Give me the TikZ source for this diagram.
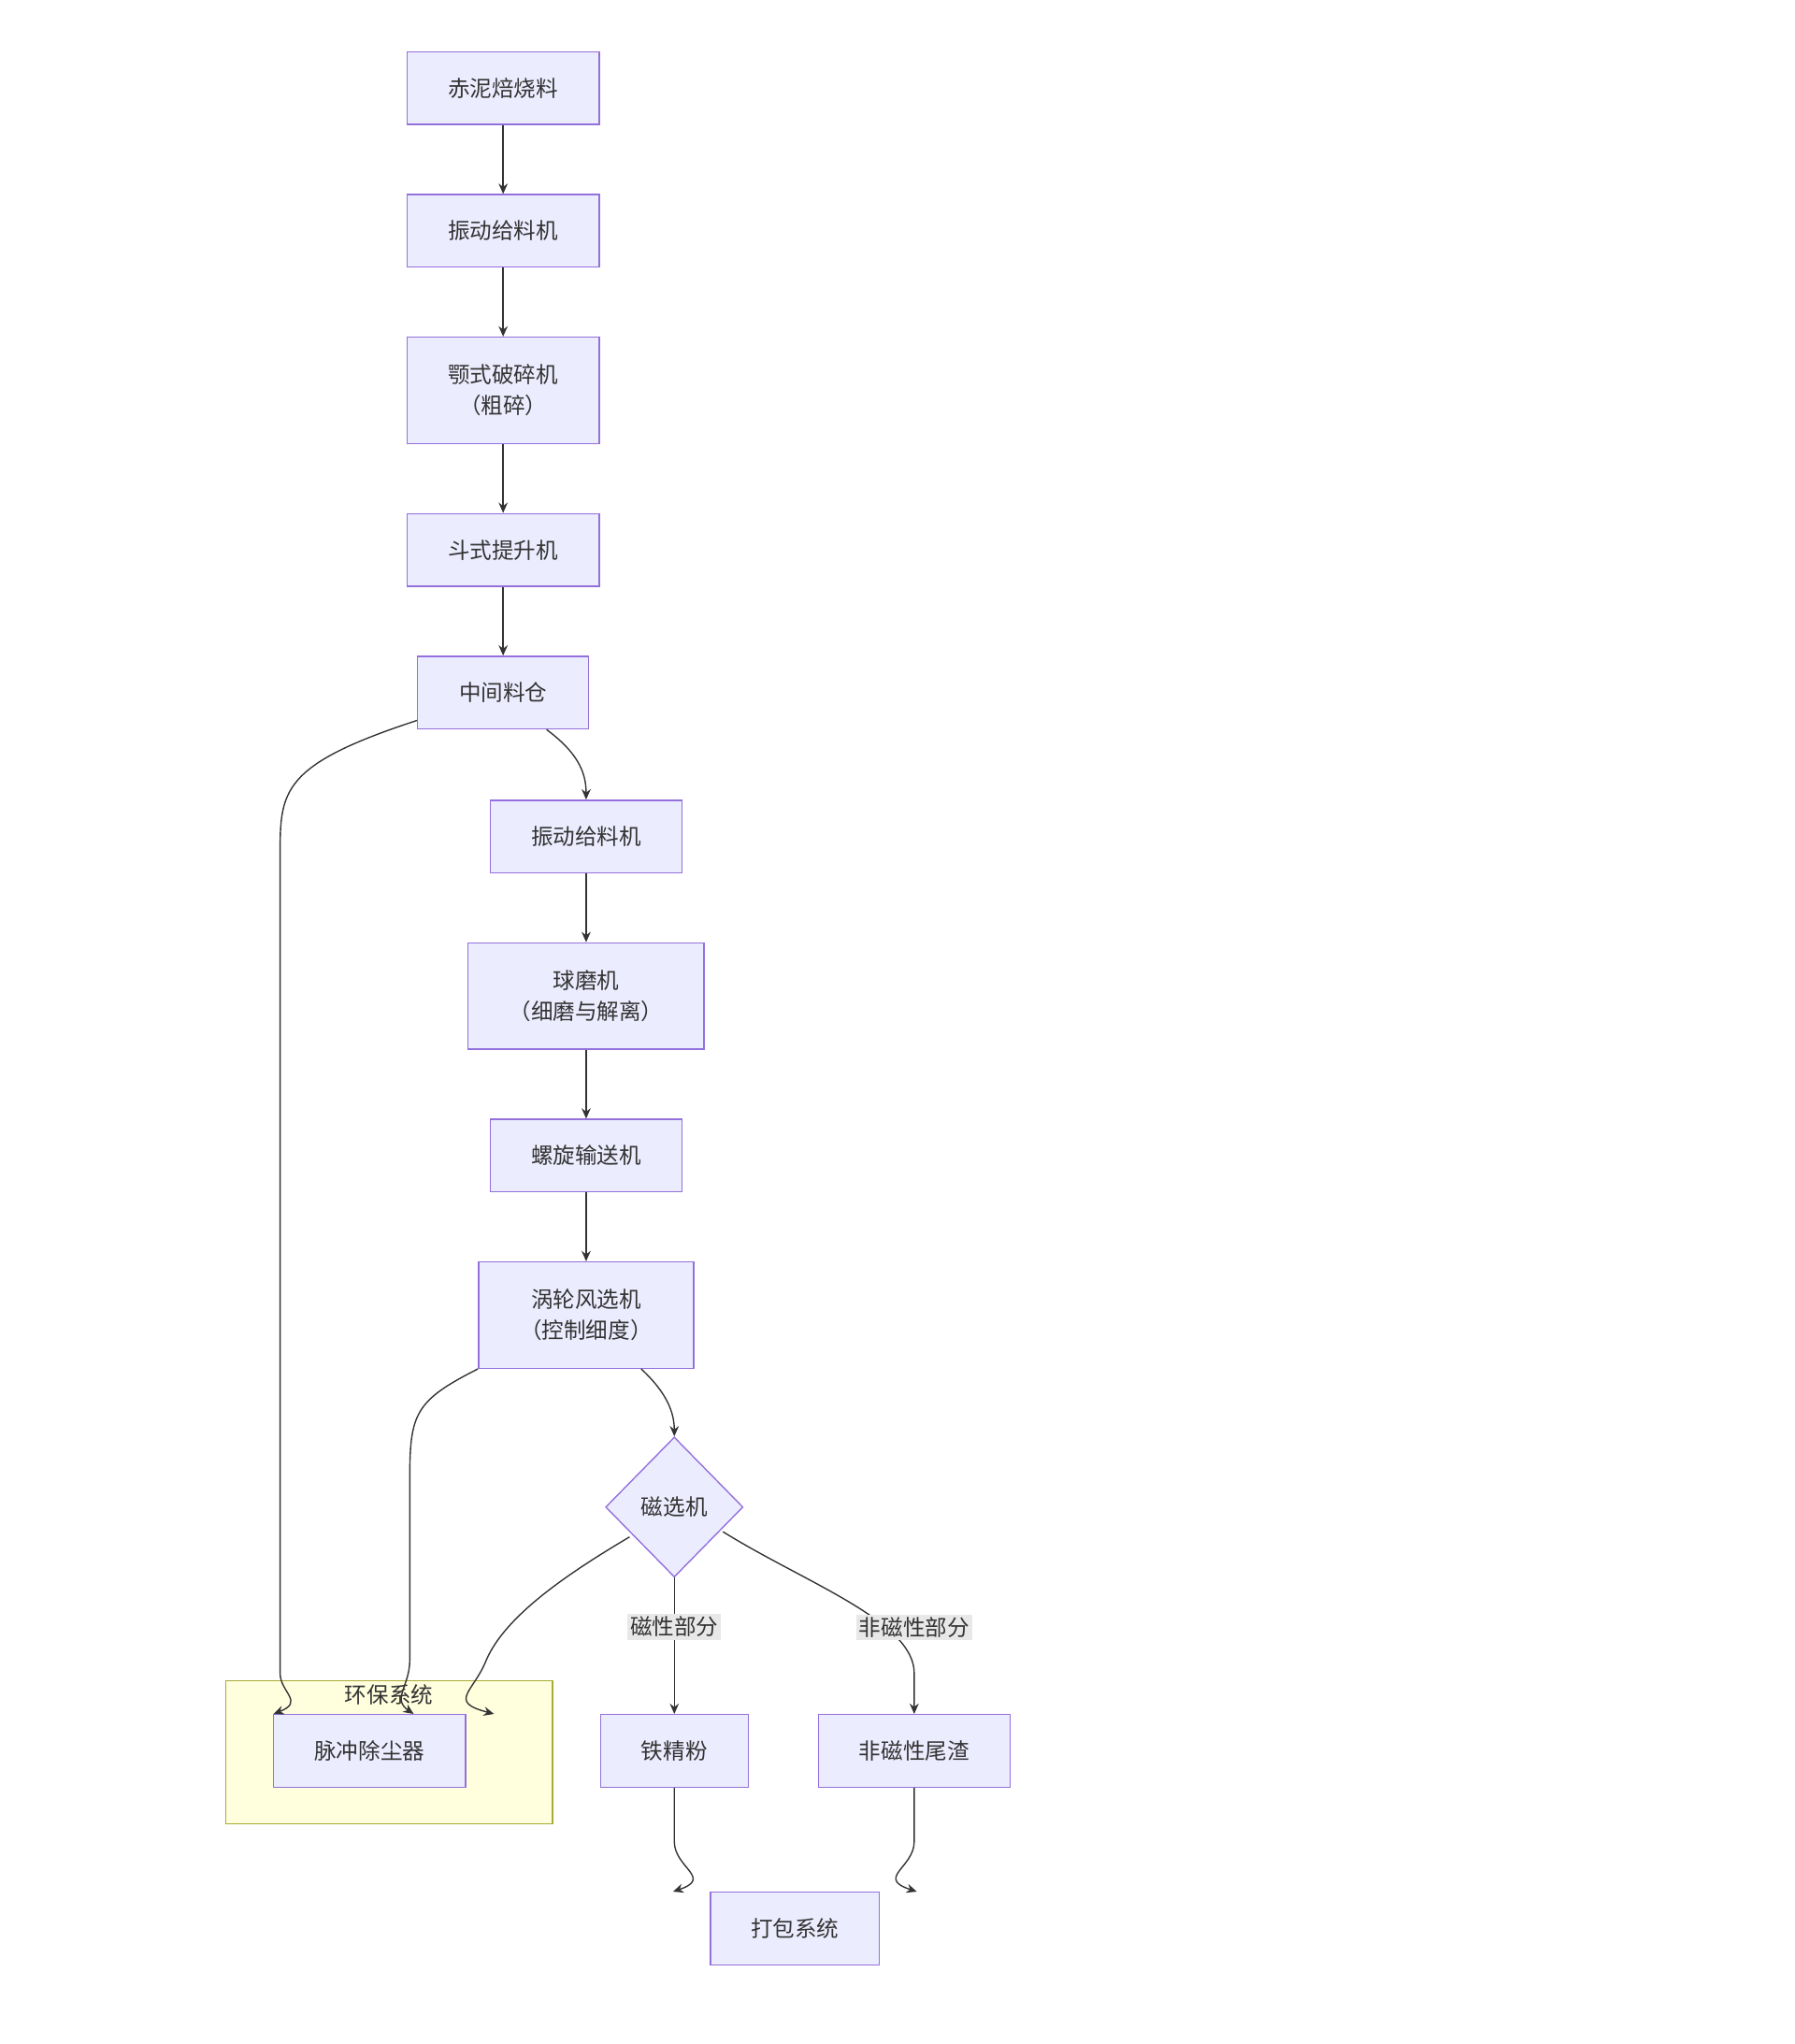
\documentclass[tikz,border=0pt]{standalone}
\usepackage{fontspec}
\setmainfont{Noto Sans CJK SC}
\usetikzlibrary{shapes.geometric,arrows.meta}
\definecolor{boxfill}{HTML}{ECECFF}
\definecolor{boxline}{HTML}{9370DB}
\definecolor{grpfill}{HTML}{FFFFDE}
\definecolor{grpline}{HTML}{AAAA33}
\definecolor{edgecol}{HTML}{333333}
\begin{document}
\begin{tikzpicture}[x=0.5pt,y=-0.5pt]
  \tikzset{BoxStyle/.style = {
    shape         = rectangle,
    draw          = boxline,
    fill          = boxfill,
    line width    = 0.5pt,
    text          = edgecol,
    align         = center,
    font          = \fontsize{8.5}{12}\selectfont,
    minimum height= 28pt,
    inner sep     = 2pt
    }
  }
  \tikzset{DiamondStyle/.style = {
    BoxStyle,
    shape         = diamond,
    minimum height= 54pt,
    minimum width = 53pt,
    inner sep     = 0pt
    }
  }
  \tikzset{EdgeStyle/.style = {
    draw          = edgecol,
    line width    = 0.5pt,
    -{Stealth[length=4pt,width=3.5pt]}
    }
  }
  \tikzset{EdgeLabelStyle/.style = {
    fill          = black!9,
    text          = edgecol,
    font          = \fontsize{8.5}{10}\selectfont,
    inner sep     = 1pt
    }
  }
  \useasboundingbox (0,0) rectangle (1384,1576);

  % cluster
  \draw[fill=grpfill,draw=grpline,line width=0.5pt] (174,1296) rectangle (426,1406);
  \node[text=edgecol,font=\fontsize{8.5}{10}\selectfont] (grp) at (300,1307) {环保系统};

  \node[BoxStyle,minimum width=74pt](raw)    at (388,68)  {赤泥焙烧料};
  \node[BoxStyle,minimum width=74pt](feedA)  at (388,178) {振动给料机};
  \node[BoxStyle,minimum width=74pt,minimum height=41pt](jaw) at (388,301) {颚式破碎机\\（粗碎）};
  \node[BoxStyle,minimum width=74pt](lift)   at (388,424) {斗式提升机};
  \node[BoxStyle,minimum width=66pt](bin)    at (388,534) {中间料仓};
  \node[BoxStyle,minimum width=74pt](feedB)  at (452,645) {振动给料机};
  \node[BoxStyle,minimum width=91pt,minimum height=41pt](mill) at (452,768) {球磨机\\（细磨与解离）};
  \node[BoxStyle,minimum width=74pt](screw)  at (452,891) {螺旋输送机};
  \node[BoxStyle,minimum width=83pt,minimum height=41pt](air) at (452,1014) {涡轮风选机\\（控制细度）};
  \node[DiamondStyle](mag)                   at (520,1162) {磁选机};
  \node[BoxStyle,minimum width=57pt](iron)   at (520,1350) {铁精粉};
  \node[BoxStyle,minimum width=74pt](tail)   at (705,1350) {非磁性尾渣};
  \node[BoxStyle,minimum width=65pt](pack)   at (613,1487) {打包系统};
  \node[BoxStyle,minimum width=74pt](dust)   at (285,1350) {脉冲除尘器};

  \draw[EdgeStyle](raw) -- (feedA);
  \draw[EdgeStyle](feedA) -- (jaw);
  \draw[EdgeStyle](jaw) -- (lift);
  \draw[EdgeStyle](lift) -- (bin);
  \draw[EdgeStyle](feedB) -- (mill);
  \draw[EdgeStyle](mill) -- (screw);
  \draw[EdgeStyle](screw) -- (air);
  \draw[EdgeStyle](bin.south east) ++(-33,0) .. controls (445,580) and (452,595) .. (feedB.north);
  \draw[EdgeStyle](bin.south west) ++(0,-7) .. controls (216,590) and (216,610) .. (216,660)
    -- (216,1290) .. controls (216,1305) and (235,1312) .. ([xshift=-37]dust.north);
  \draw[EdgeStyle](air.south west) .. controls (320,1080) and (316,1090) .. (316,1140)
    -- (316,1280) .. controls (316,1300) and (302,1310) .. ([xshift=17]dust.north);
  \draw[EdgeStyle](air.south east) ++(-41,0) .. controls (510,1070) and (520,1085) .. (mag.north);
  \draw[EdgeStyle](mag.west) ++(19,23) .. controls (440,1212) and (390,1245) .. (375,1280)
    .. controls (365,1305) and (345,1312) .. ([xshift=48]dust.north);
  \draw[EdgeStyle](mag.south) -- node[EdgeLabelStyle,pos=0.36]{磁性部分} (iron.north);
  \draw[EdgeStyle](mag.east) ++(-16,19) .. controls (620,1220) and (705,1250) .. (705,1290)
    -- (tail.north);
  \node[EdgeLabelStyle] (lblB) at (705,1255) {非磁性部分};
  \draw[EdgeStyle](iron.south) -- (520,1420) .. controls (520,1440) and (550,1448) .. ([xshift=-47]pack.north);
  \draw[EdgeStyle](tail.south) -- (705,1420) .. controls (705,1440) and (675,1448) .. ([xshift=47]pack.north);
\end{tikzpicture}
\end{document}
